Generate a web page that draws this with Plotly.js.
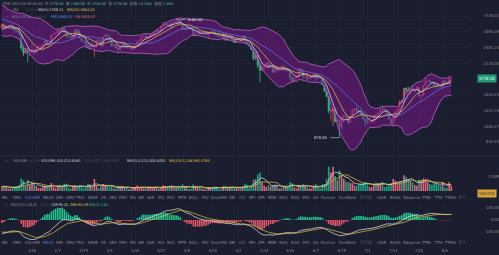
<!DOCTYPE html>
<html><head><meta charset="utf-8">
<script src="https://cdn.plot.ly/plotly-3.0.1.min.js"></script>
<style>html,body{margin:0;padding:0;background:#1b1e2e;overflow:hidden}#c{width:499px;height:255px}</style>
</head><body><div id="c"></div><script>
// ---------- DATA (ETH daily, 2022-01-12 .. 2022-08-09) ----------
const START = [2022, 0, 12];
// closes before the visible window, used only to warm up MA / BOLL / MACD
const warmClose = [4590,4510,4220,4120,4190,4350,4310,4430,4110,3890,4080,4130,3780,3860,4020,3960,3880,3960,3920,3940,4020,3980,4110,4040,4090,4060,4030,3790,3630,3710,3680,3770,3830,3760,3790,3540,3410,3200,3090,3160,3080,3240];
const open = [
3240,3372,3250,3310,3330,3350,3212,3164,3095,2994,2561,2405,2540,2441,2459,2469,2424,2547,2599,2606,
2688,2791,2681,2661,2990,3022,3060,3140,3122,3240,3075,2929,2915,2880,2934,3180,3125,2882,2787,2760,2627,2573,2639,2589,2600,2785,2780,2620,
2921,2972,2948,2836,2619,2664,2556,2497,2576,2728,2608,2560,2575,2518,2590,2620,2772,2814,2945,2948,2859,2896,2969,3030,3110,3109,3142,3292,3330,3400,3384,
3282,3451,3444,3522,3521,3410,3171,3232,3190,3261,3209,2981,3029,3117,3020,3040,3061,2992,3059,3103,3079,2986,2964,2935,2923,3007,2808,2889,2936,2817,
2727,2826,2857,2782,2940,2748,2694,2636,2518,2244,2343,2079,1960,2013,2061,2145,2023,2090,1912,2019,1960,1975,2043,1972,1978,1944,1802,1724,1792,1812,1996,
1942,1823,1834,1775,1805,1806,1859,1813,1793,1790,1663,1530,1433,1207,1209,1235,1067,1087,995,1127,1128,1124,1050,1143,1225,1243,1199,1193,1143,1098,
1067,1059,1067,1074,1150,1134,1187,1237,1233,1216,1168,1097,1038,1112,1192,1233,1355,1339,1580,1543,1522,1578,1538,1552,1597,1440,1451,1636,1724,1731,1696,
1679,1632,1631,1618,1609,1730,1701,1698,1776];
const high = [
3413,3405,3335,3365,3375,3358,3220,3185,3275,3020,2610,2550,2545,2510,2720,2510,2570,2630,2640,2700,
2810,2800,2725,3005,3065,3075,3195,3190,3250,3285,3140,2995,2955,2950,3190,3190,3160,2950,2810,2770,2765,2660,2740,2655,2830,2860,2830,2940,
3050,3040,2975,2850,2690,2675,2645,2620,2760,2730,2660,2610,2610,2610,2650,2785,2840,2950,2990,2955,2935,3040,3040,3125,3190,3150,3295,3480,3450,3445,3445,
3475,3530,3580,3555,3548,3415,3260,3305,3270,3305,3215,3085,3140,3130,3050,3075,3070,3065,3125,3170,3190,3020,2980,2965,3020,3040,2920,2985,2945,2845,
2850,2890,2875,2955,2965,2755,2710,2650,2525,2455,2455,2140,2150,2080,2160,2150,2115,2100,2040,2045,1990,2055,2090,2000,2015,1960,1825,1795,1815,2015,2015,
1970,1850,1840,1810,1820,1915,1865,1835,1820,1805,1675,1545,1440,1265,1260,1240,1125,1090,1150,1160,1185,1130,1150,1240,1250,1280,1235,1230,1145,1100,
1110,1075,1080,1155,1165,1195,1245,1285,1240,1225,1170,1100,1115,1200,1250,1365,1385,1590,1600,1620,1590,1645,1580,1625,1600,1460,1650,1785,1765,1750,1725,
1700,1680,1680,1660,1735,1745,1722,1815,1786];
const low = [
3230,3218,3180,3280,3295,3160,3080,3060,2985,2470,2325,2370,2160,2330,2405,2360,2375,2530,2540,2480,
2660,2660,2585,2650,2980,2995,3045,2990,3085,3050,2890,2880,2855,2830,2925,3050,2860,2740,2710,2580,2560,2500,2580,2300,2560,2735,2590,2580,
2860,2910,2810,2600,2600,2550,2455,2480,2570,2550,2535,2550,2505,2505,2510,2590,2760,2745,2910,2835,2830,2890,2935,2995,3085,3085,3130,3290,3325,3345,3270,
3210,3435,3415,3410,3405,3150,3140,3175,3180,3190,2950,2960,2995,3000,3000,3025,2985,2880,3030,3055,2960,2930,2925,2895,2790,2780,2795,2850,2775,2720,
2715,2780,2770,2775,2705,2650,2590,2490,2210,2200,2010,1700,1950,1950,2020,1995,2015,1905,1900,1935,1935,1955,1960,1925,1935,1750,1705,1720,1765,1805,1910,
1750,1780,1745,1760,1775,1800,1725,1765,1780,1640,1515,1420,1175,1075,1010,1050,1060,878.84,970,1060,1100,1040,1045,1140,1180,1195,1170,1140,1080,1000,
1035,1040,1045,1050,1080,1105,1170,1195,1205,1150,1090,1035,1005,1075,1175,1190,1330,1335,1475,1505,1460,1530,1495,1545,1435,1355,1440,1615,1690,1685,1675,
1615,1570,1605,1595,1605,1700,1680,1695,1758];
const close = [
3372,3250,3310,3330,3350,3212,3164,3095,2994,2561,2405,2540,2441,2459,2469,2424,2547,2599,2606,2688,
2791,2681,2661,2990,3022,3060,3140,3122,3240,3075,2929,2915,2880,2934,3180,3125,2882,2787,2760,2627,2573,2639,2589,2600,2785,2780,2620,2921,
2972,2948,2836,2619,2664,2556,2497,2576,2728,2608,2560,2575,2518,2590,2620,2772,2814,2945,2948,2859,2896,2969,3030,3110,3109,3142,3292,3330,3400,3384,3282,
3451,3444,3522,3521,3410,3171,3232,3190,3261,3209,2981,3029,3117,3020,3040,3061,2992,3059,3103,3079,2986,2964,2935,2923,3007,2808,2889,2936,2817,2727,
2826,2857,2782,2940,2748,2694,2636,2518,2244,2343,2079,1960,2013,2061,2145,2023,2090,1912,2019,1960,1975,2043,1972,1978,1944,1802,1724,1792,1812,1996,1942,
1823,1834,1775,1805,1806,1859,1813,1793,1790,1663,1530,1433,1207,1209,1235,1067,1087,995,1127,1128,1124,1050,1143,1225,1243,1199,1193,1143,1098,1067,
1059,1067,1074,1150,1134,1187,1237,1233,1216,1168,1097,1038,1112,1192,1233,1355,1339,1580,1543,1522,1578,1538,1552,1597,1440,1451,1636,1724,1731,1696,1679,
1632,1631,1618,1609,1730,1701,1698,1776,1778.28];
// volume in millions
const volume = [
0.48,0.56,0.42,0.26,0.25,0.42,0.48,0.48,0.62,1.35,1.15,0.56,1.16,0.65,0.90,0.76,0.56,0.34,0.33,0.48,
0.56,0.50,0.52,0.85,0.42,0.30,0.56,0.65,0.47,0.80,0.72,0.34,0.28,0.52,0.62,0.40,0.64,0.56,0.28,0.42,0.78,0.70,0.48,1.30,0.56,0.33,0.50,0.70,
0.64,0.48,0.40,0.58,0.26,0.25,0.52,0.44,0.54,0.40,0.40,0.20,0.25,0.38,0.40,0.62,0.36,0.48,0.28,0.30,0.45,0.48,0.40,0.45,0.42,0.23,0.38,0.62,0.52,0.40,0.48,
0.56,0.40,0.36,0.46,0.44,0.72,0.43,0.47,0.20,0.25,0.70,0.52,0.40,0.40,0.28,0.18,0.20,0.42,0.35,0.38,0.48,0.42,0.19,0.20,0.52,0.56,0.45,0.42,0.44,0.29,
0.33,0.42,0.33,0.47,0.78,0.66,0.36,0.50,1.20,1.25,1.75,1.95,0.95,0.58,0.42,0.62,0.50,0.62,0.68,0.62,0.26,0.30,0.54,0.47,0.46,0.95,0.82,0.36,0.28,0.65,0.56,
0.72,0.53,0.48,0.26,0.26,0.54,0.72,0.47,0.30,0.70,0.75,1.25,2.60,2.00,2.60,1.60,1.15,2.20,1.70,1.30,1.00,1.00,0.85,0.85,0.60,0.55,0.75,0.75,0.85,1.00,
0.80,0.42,0.42,0.68,0.92,0.82,0.85,0.92,0.45,0.50,0.75,0.85,1.30,1.10,0.85,0.95,0.90,1.70,1.50,1.25,1.10,0.95,0.65,0.60,1.20,1.10,1.35,1.30,1.00,0.75,0.65,
0.85,0.82,0.70,0.60,0.95,0.38,0.35,0.95,0.54];
const priceTicks = [3738.01, 3095.09, 2581.24, 2130.00, 1464.22, 1211.76, 1006.27, 834.22];
const volumeTicks = [1.5];
const macdTicks = [200, 0, -200];
const tabs = ['MA','EMA','VOLUME','MACD','DMI','DMA','TRIX','BRAR','VR','OBV','EMV','RSI','WR','SAR','KDJ','ROC','MTM','BOLL','PSY','StochRSI','DM','CCI','MFI','ATR','BBW','SKDJ','BIAS','DPO','AO','Position','FundRate','持仓量','LSUR','BASIS','Takeprice','FTBS','TTSI','TTMAI','更多'];

// ---------- checks ----------
[open, high, low, volume].forEach(a => { if (a.length !== close.length) throw new Error('length mismatch ' + a.length); });

// ---------- derived ----------
const dates = close.map((_, i) => new Date(Date.UTC(START[0], START[1], START[2] + i)).toISOString().slice(0, 10));
const full = warmClose.concat(close);
const W = warmClose.length;
function sma(arr, n, i) { const s = Math.max(0, i - n + 1); let t = 0; for (let k = s; k <= i; k++) t += arr[k]; return t / (i - s + 1); }
function ema(arr, n) { const a = 2 / (n + 1); const out = [arr[0]]; for (let i = 1; i < arr.length; i++) out.push(a * arr[i] + (1 - a) * out[i - 1]); return out; }
const ma5 = [], ma10 = [], mid = [], ub = [], lb = [];
for (let i = W; i < full.length; i++) {
  ma5.push(sma(full, 5, i)); ma10.push(sma(full, 10, i));
  const m = sma(full, 20, i); let v = 0; for (let k = i - 19; k <= i; k++) v += (full[k] - m) ** 2;
  const sd = Math.sqrt(v / 20); mid.push(m); ub.push(m + 2 * sd); lb.push(m - 2 * sd);
}
const e12 = ema(full, 12), e26 = ema(full, 26);
const difAll = e12.map((v, i) => v - e26[i]);
const deaAll = ema(difAll, 9);
const dif = difAll.slice(W), dea = deaAll.slice(W);
const hist = dif.map((v, i) => 2 * (v - dea[i]));
const vma5 = volume.map((_, i) => sma(volume, 5, i));
const vma10 = volume.map((_, i) => sma(volume, 10, i));

const UP = '#e8496a', DOWN = '#27c281';
const volColors = close.map((c, i) => c >= open[i] ? '#e0627a' : '#1aa383');
const histColors = hist.map(v => v >= 0 ? '#22c38f' : '#e3566b');

const traces = [
  {type:'scatter', x:dates, y:ub, mode:'lines', line:{color:'#b565bd', width:0.8}, xaxis:'x', yaxis:'y'},
  {type:'scatter', x:dates, y:lb, mode:'lines', line:{color:'#b565bd', width:0.8}, fill:'tonexty', fillcolor:'rgba(118,24,138,0.55)', xaxis:'x', yaxis:'y'},
  {type:'scatter', x:dates, y:mid, mode:'lines', line:{color:'#5b6fe0', width:0.8}, xaxis:'x', yaxis:'y'},
  {type:'candlestick', x:dates, open:open, high:high, low:low, close:close, xaxis:'x', yaxis:'y',
    increasing:{line:{color:UP, width:0.8}, fillcolor:UP}, decreasing:{line:{color:DOWN, width:0.8}, fillcolor:DOWN}},
  {type:'scatter', x:dates, y:ma5, mode:'lines', line:{color:'#e6e6e6', width:0.7}, xaxis:'x', yaxis:'y'},
  {type:'scatter', x:dates, y:ma10, mode:'lines', line:{color:'#e2c449', width:0.7}, xaxis:'x', yaxis:'y'},
  {type:'bar', x:dates, y:volume, marker:{color:volColors, line:{width:0}}, xaxis:'x', yaxis:'y2'},
  {type:'scatter', x:dates, y:vma5, mode:'lines', line:{color:'#e6e6e6', width:0.7}, xaxis:'x', yaxis:'y2'},
  {type:'scatter', x:dates, y:vma10, mode:'lines', line:{color:'#e2c449', width:0.7}, xaxis:'x', yaxis:'y2'},
  {type:'bar', x:dates, y:hist, marker:{color:histColors, line:{width:0}}, xaxis:'x', yaxis:'y3'},
  {type:'scatter', x:dates, y:dif, mode:'lines', line:{color:'#e6e6e6', width:0.7}, xaxis:'x', yaxis:'y3'},
  {type:'scatter', x:dates, y:dea, mode:'lines', line:{color:'#e2c449', width:0.7}, xaxis:'x', yaxis:'y3'}
];

// ---------- layout helpers ----------
const H = 255, WPX = 499, PLOTR = 470;
const px2x = p => p / WPX, px2y = p => 1 - p / H;
const FS = 3.8, TS = 4.0, AX = 4.1, GRAY = '#868aa0', DIM = '#4b4f62';
const FAM = '"DejaVu Sans Condensed", "Noto Sans", "Noto Sans CJK SC", sans-serif';
const ann = [];
function label(x, y, text, color, anchor, size) {
  ann.push({xref:'paper', yref:'paper', x:px2x(x), y:px2y(y), text:text, showarrow:false,
    xanchor:anchor || 'left', yanchor:'middle', font:{family:FAM, size:size || FS, color:color || GRAY}});
}
const V = s => `<span style="color:#4fc1b2">${s}</span>`;
label(1, 3.5, `时间 2022-08-09 08:00  开 ${V('1776.00')}  高 ${V('1786.00')}  低 ${V('1758.00')}  收 ${V('1778.28')}  涨幅 ${V('+0.13%')}  振幅 ${V('1.58%')}`);
label(3, 10, '—'); label(11, 10, 'MA'); label(24, 10, '◎ ⚙ ✕', DIM);
label(36, 10, 'MA(5):1736.11', '#d8d8d8'); label(65, 10, 'MA(10):1684.22', '#e2c449');
label(3, 17, '—'); label(10, 17, 'BOLL(20,2)'); label(33, 17, '◎ ⚙ ✕', DIM);
label(49, 17, 'MID:1608.22', '#5b8ff0'); label(73, 17, 'UB:1825.47', '#e0708a');
label(3, 160, '—'); label(11, 160, 'VOLUME'); label(27, 160, '◎ ⚙ ✕', DIM);
label(39, 160, 'VOLUME:540,010.6580', '#c9c9c9'); label(82, 160, 'VOL(USDT):960.24M', DIM);
label(125, 160, 'MA(5):4,214,000.8252', '#d8d8d8'); label(167, 160, 'MA(10):5,138,984.4785', '#e2c449');
label(3, 204, '—'); label(9, 204, 'MACD(12,26,9)'); label(39, 204, '◎ ⚙ ✕', DIM);
label(50, 204, 'DIF:95.41', '#d8d8d8'); label(68, 204, 'DEA:92.59', '#e2c449'); label(87, 204, 'MACD:5.64', '#22c38f');
const tabX = [5,17,33,48,59,70,80,93,103,113,123,133,141,151,161,171,182,193,205,219,232,242,252,261,272,283,295,306,315,328,348,366,382,395,411,427,438,450,462];
tabs.forEach((t, i) => {
  const dim = (t === '持仓量' || t === '更多');
  label(tabX[i], 197, t, t === 'VOLUME' ? '#5b7fd6' : (dim ? DIM : GRAY), 'center', TS);
  label(tabX[i], 242, t, t === 'MACD' ? '#5b7fd6' : (dim ? DIM : GRAY), 'center', TS);
});
// current price & volume boxes
const last = close.length - 1;
ann.push({xref:'paper', yref:'y', x:px2x(497), y:Math.log10(close[last]), text:close[last].toFixed(2), showarrow:false,
  xanchor:'right', yanchor:'middle', bgcolor:'#1e9e76', borderpad:1, font:{family:FAM, size:AX, color:'#ffffff'}});
ann.push({xref:'paper', yref:'paper', x:px2x(497), y:px2y(193), text:'540.01K', showarrow:false,
  xanchor:'right', yanchor:'middle', bgcolor:'#d6a23a', borderpad:1, font:{family:FAM, size:AX, color:'#1b1e2e'}});
// high / low markers
let iMax = 0, iMin = 0;
high.forEach((v, i) => { if (v > high[iMax]) iMax = i; });
low.forEach((v, i) => { if (v < low[iMin]) iMin = i; });
ann.push({xref:'x', yref:'y', x:dates[iMax], y:Math.log10(high[iMax]), text:high[iMax].toFixed(2), showarrow:true,
  arrowhead:0, arrowwidth:0.6, arrowcolor:'#cccccc', ax:9, ay:0, xanchor:'left', font:{family:FAM, size:AX, color:'#dddddd'}});
ann.push({xref:'x', yref:'y', x:dates[iMin], y:Math.log10(low[iMin]), text:low[iMin].toFixed(2), showarrow:true,
  arrowhead:0, arrowwidth:0.6, arrowcolor:'#cccccc', ax:-9, ay:0, xanchor:'right', font:{family:FAM, size:AX, color:'#dddddd'}});

const lg = Math.log10;
const topLog = lg(3738.01) + 16 * (lg(3738.01) - lg(834.22)) / 126;
const botLog = lg(834.22) - 13 * (lg(3738.01) - lg(834.22)) / 126;
const dateTicks = dates.filter((d, i) => i >= 14 && (i - 14) % 12 === 0);
const yAxisBase = {anchor:'free', position:1, side:'left', showline:false, zeroline:false, ticks:'',
  tickfont:{family:FAM, size:AX, color:GRAY}, fixedrange:true};
const layout = {
  width:WPX, height:H, margin:{l:0, r:0, t:0, b:0},
  paper_bgcolor:'#1b1e2e', plot_bgcolor:'#1b1e2e', showlegend:false, hovermode:false, dragmode:false,
  font:{family:FAM, size:FS, color:GRAY},
  bargap:0.25,
  xaxis:{type:'date', domain:[0, PLOTR / WPX], range:['2022-01-11 02:24', '2022-08-17 17:00'],
    anchor:'free', position:px2y(247), tickvals:dateTicks, tickformat:'%-m/%-d',
    showgrid:true, gridcolor:'#22263a', gridwidth:0.6, zeroline:false, showline:false, ticks:'',
    tickfont:{family:FAM, size:AX, color:GRAY}, rangeslider:{visible:false}, fixedrange:true},
  yaxis:Object.assign({}, yAxisBase, {type:'log', domain:[px2y(155), 1], range:[botLog, topLog],
    tickvals:priceTicks, ticktext:priceTicks.map(v => v.toFixed(2)), showgrid:true, gridcolor:'#1f2335'}),
  yaxis2:Object.assign({}, yAxisBase, {domain:[px2y(191), px2y(158)], range:[0, 1.5 * 33 / 14],
    tickvals:volumeTicks, ticktext:volumeTicks.map(v => v.toFixed(2) + 'M'), showgrid:false}),
  yaxis3:Object.assign({}, yAxisBase, {domain:[px2y(240), px2y(205)], range:[-20 * 200 / 12, 15 * 200 / 12],
    tickvals:macdTicks, ticktext:macdTicks.map(v => v.toFixed(2)), showgrid:false}),
  shapes:[{type:'line', xref:'paper', yref:'paper', x0:0, x1:1, y0:px2y(156), y1:px2y(156), line:{color:'#2b2f42', width:0.8}}],
  annotations:ann
};
Plotly.newPlot('c', traces, layout, {staticPlot:true, displayModeBar:false});
</script></body></html>
